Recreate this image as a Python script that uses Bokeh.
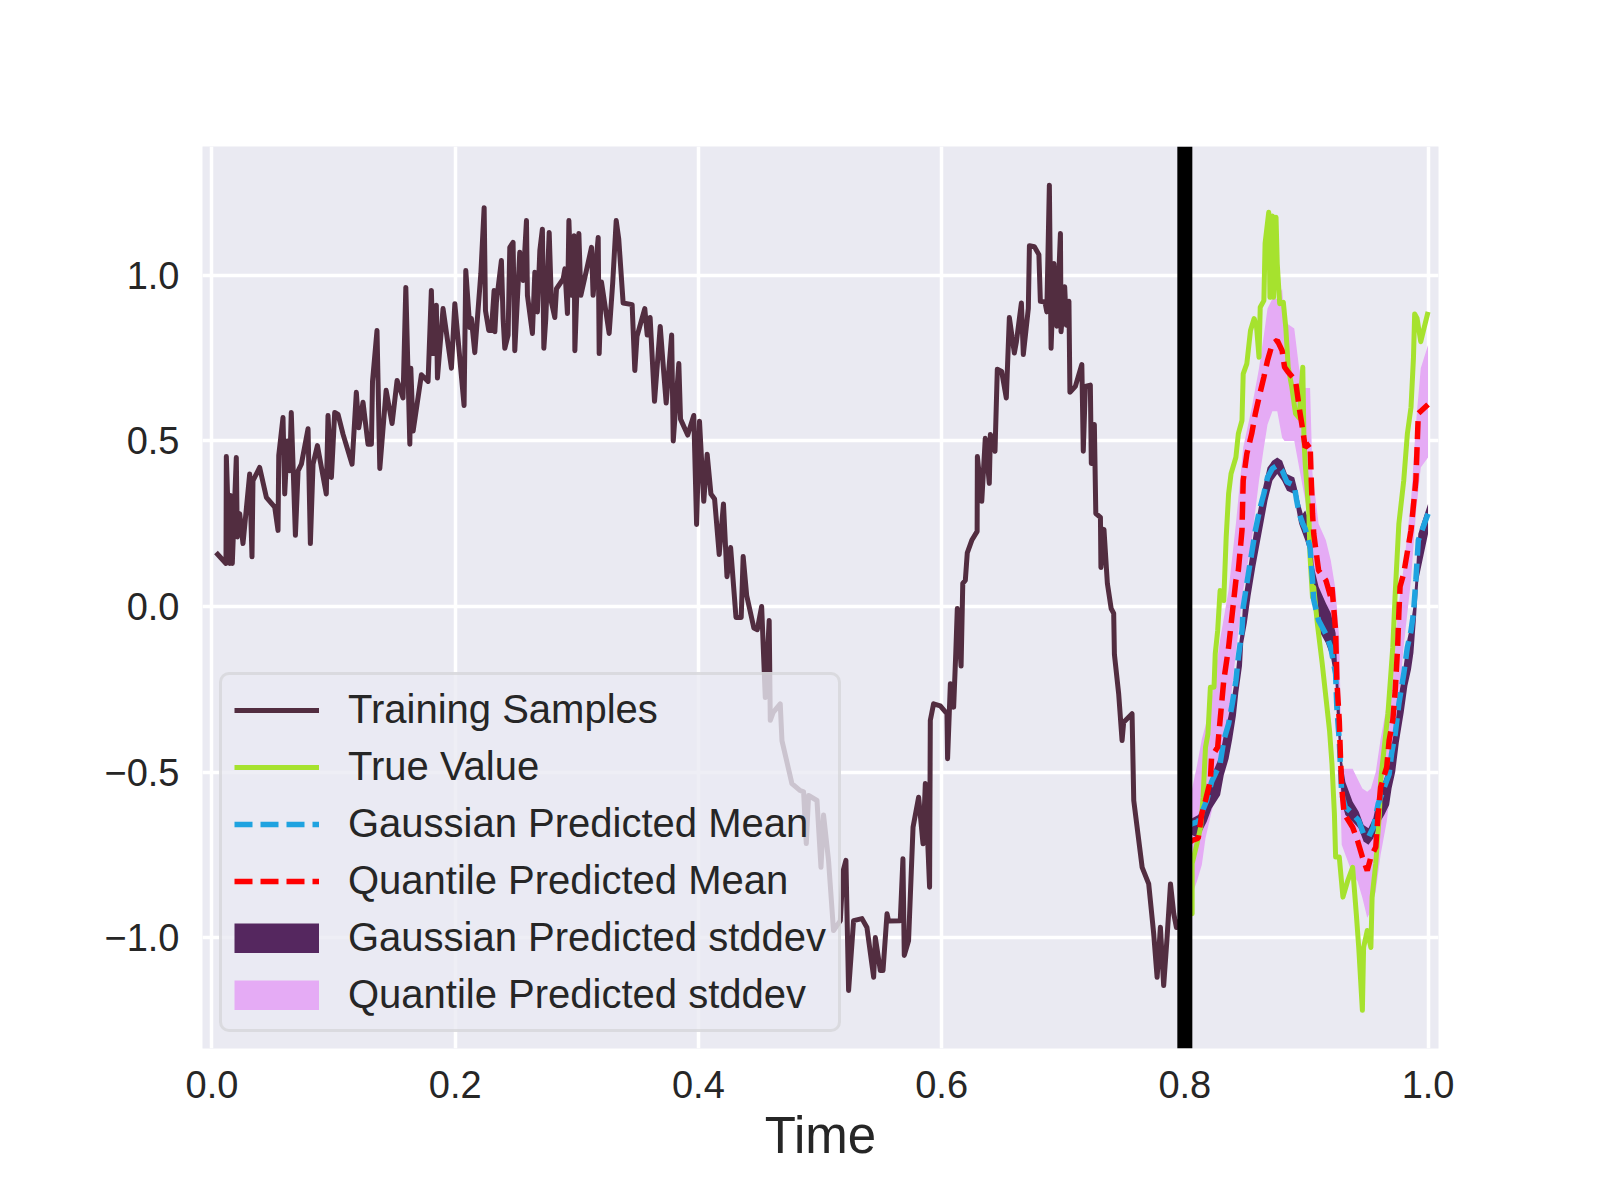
import numpy as np
from bokeh.plotting import figure
from bokeh.models import Span, Legend, LegendItem, FixedTicker, Range1d
from bokeh.embed import file_html
from bokeh.resources import INLINE

# ---------------- data ----------------
train_x = [0.0033, 0.0115, 0.0118, 0.0146, 0.0151, 0.0167, 0.0200, 0.0208, 0.0228, 0.0255,
           0.0310, 0.0329, 0.0337, 0.0392, 0.0447, 0.0516, 0.0543, 0.0549, 0.0584, 0.0598,
           0.0620, 0.0639, 0.0652, 0.0686, 0.0708, 0.0735, 0.0790, 0.0809, 0.0831, 0.0867,
           0.0940, 0.0954, 0.0982, 0.1009, 0.1037, 0.1078, 0.1152, 0.1187, 0.1207, 0.1242,
           0.1283, 0.1311, 0.1320, 0.1357, 0.1380, 0.1432, 0.1481, 0.1522, 0.1571, 0.1594,
           0.1627, 0.1635, 0.1654, 0.1722, 0.1777, 0.1804, 0.1818, 0.1845, 0.1854, 0.1900,
           0.1969, 0.1997, 0.2073, 0.2087, 0.2120, 0.2133, 0.2161, 0.2211, 0.2238, 0.2249,
           0.2276, 0.2298, 0.2320, 0.2326, 0.2339, 0.2380, 0.2394, 0.2408, 0.2435, 0.2449,
           0.2476, 0.2490, 0.2531, 0.2559, 0.2586, 0.2594, 0.2635, 0.2655, 0.2676, 0.2696,
           0.2717, 0.2729, 0.2745, 0.2773, 0.2791, 0.2819, 0.2833, 0.2888, 0.2902, 0.2923,
           0.2935, 0.2956, 0.2978, 0.2984, 0.3017, 0.3033, 0.3079, 0.3121, 0.3134, 0.3176,
           0.3184, 0.3203, 0.3266, 0.3295, 0.3324, 0.3345, 0.3381, 0.3455, 0.3477, 0.3495,
           0.3559, 0.3579, 0.3603, 0.3639, 0.3686, 0.3715, 0.3735, 0.3780, 0.3793, 0.3839,
           0.3853, 0.3912, 0.3962, 0.3985, 0.4009, 0.4044, 0.4072, 0.4103, 0.4133, 0.4171,
           0.4206, 0.4235, 0.4265, 0.4309, 0.4352, 0.4368, 0.4397, 0.4456, 0.4484, 0.4520,
           0.4550, 0.4582, 0.4591, 0.4615, 0.4673, 0.4687, 0.4769, 0.4837, 0.4865, 0.4887,
           0.4906, 0.4975, 0.5008, 0.5029, 0.5070, 0.5111, 0.5167, 0.5189, 0.5213, 0.5235,
           0.5276, 0.5345, 0.5386, 0.5441, 0.5455, 0.5496, 0.5518, 0.5551, 0.5564, 0.5660,
           0.5682, 0.5693, 0.5728, 0.5765, 0.5811, 0.5847, 0.5866, 0.5901, 0.5907, 0.5934,
           0.5989, 0.6044, 0.6049, 0.6072, 0.6099, 0.6116, 0.6129, 0.6160, 0.6174, 0.6195,
           0.6211, 0.6248, 0.6292, 0.6294, 0.6330, 0.6359, 0.6392, 0.6401, 0.6439, 0.6458,
           0.6494, 0.6532, 0.6557, 0.6598, 0.6615, 0.6656, 0.6672, 0.6713, 0.6722, 0.6763,
           0.6800, 0.6812, 0.6850, 0.6865, 0.6886, 0.6900, 0.6924, 0.6947, 0.6977, 0.6982,
           0.7012, 0.7026, 0.7047, 0.7055, 0.7100, 0.7153, 0.7165, 0.7182, 0.7223, 0.7231,
           0.7256, 0.7268, 0.7306, 0.7310, 0.7335, 0.7363, 0.7394, 0.7415, 0.7421, 0.7456,
           0.7484, 0.7497, 0.7566, 0.7580, 0.7649, 0.7703, 0.7744, 0.7772, 0.7799, 0.7826,
           0.7854, 0.7882, 0.7909, 0.7931, 0.7997]
train_y = [0.163, 0.13, 0.453, 0.13, 0.335, 0.13, 0.45, 0.21, 0.28, 0.19,
           0.40, 0.15, 0.38, 0.42, 0.33, 0.30, 0.23, 0.456, 0.571, 0.34,
           0.50, 0.41, 0.586, 0.215, 0.41, 0.43, 0.537, 0.19, 0.43, 0.486,
           0.34, 0.577, 0.39, 0.586, 0.58, 0.52, 0.43, 0.647, 0.54, 0.617,
           0.49, 0.49, 0.68, 0.834, 0.417, 0.653, 0.553, 0.683, 0.63, 0.964,
           0.49, 0.72, 0.53, 0.70, 0.68, 0.955, 0.764, 0.91, 0.69, 0.90,
           0.72, 0.915, 0.607, 1.015, 0.843, 0.87, 0.767, 1.006, 1.205, 0.894,
           0.834, 0.834, 0.955, 0.83, 0.92, 1.045, 0.87, 0.78, 0.82, 1.085,
           1.10, 0.773, 1.07, 0.985, 1.166, 0.94, 0.825, 1.01, 0.89, 1.075,
           1.14, 0.78, 0.87, 1.13, 0.92, 0.873, 0.96, 0.99, 1.02, 0.885,
           1.166, 0.94, 1.12, 0.773, 1.127, 0.94, 1.015, 1.085, 0.94, 1.115,
           0.764, 0.98, 0.825, 0.976, 1.166, 1.11, 0.917, 0.912, 0.713, 0.816,
           0.90, 0.82, 0.873, 0.62, 0.846, 0.707, 0.615, 0.82, 0.50, 0.734,
           0.566, 0.518, 0.577, 0.248, 0.56, 0.318, 0.46, 0.34, 0.325, 0.157,
           0.31, 0.09, 0.178, -0.033, -0.033, 0.151, 0.033, -0.065, -0.07, 0.0,
           -0.275, -0.042, -0.344, -0.32, -0.294, -0.405, -0.535, -0.556, -0.56, -0.716,
           -0.571, -0.586, -0.788, -0.63, -0.767, -0.979, -0.949, -0.80, -0.767, -1.16,
           -0.949, -0.943, -0.97, -1.12, -1.0, -1.1, -1.1, -0.928, -0.95, -0.949,
           -0.762, -1.054, -1.01, -0.667, -0.576, -0.717, -0.535, -0.848, -0.344, -0.294,
           -0.30, -0.324, -0.46, -0.233, -0.304, -0.145, -0.006, -0.18, 0.07, 0.079,
           0.162, 0.2, 0.227, 0.453, 0.318, 0.508, 0.372, 0.52, 0.469, 0.717,
           0.71, 0.63, 0.873, 0.766, 0.80, 0.917, 0.761, 0.90, 1.09, 1.087,
           1.063, 0.922, 0.92, 0.89, 1.273, 0.78, 1.036, 0.847, 1.127, 0.83,
           0.966, 0.85, 0.922, 0.647, 0.665, 0.731, 0.469, 0.665, 0.669, 0.432,
           0.55, 0.281, 0.269, 0.118, 0.233, 0.07, -0.006, -0.021, -0.145, -0.264,
           -0.405, -0.35, -0.324, -0.586, -0.788, -0.838, -0.989, -1.12, -0.969, -1.145,
           -1.0, -0.838, -0.928, -0.97, -0.92]

true_x = [0.800, 0.806, 0.806, 0.810, 0.813, 0.815, 0.817, 0.819, 0.821, 0.824,
          0.825, 0.827, 0.829, 0.832, 0.834, 0.836, 0.838, 0.842, 0.844, 0.847,
          0.848, 0.851, 0.854, 0.857, 0.859, 0.861, 0.862, 0.865, 0.866, 0.869,
          0.870, 0.872, 0.873, 0.875, 0.876, 0.878, 0.881, 0.883, 0.885, 0.888,
          0.891, 0.894, 0.897, 0.898, 0.899, 0.902, 0.903, 0.905, 0.906, 0.909,
          0.913, 0.916, 0.919, 0.921, 0.923, 0.924, 0.927, 0.930, 0.934, 0.938,
          0.941, 0.943, 0.946, 0.947, 0.950, 0.953, 0.954, 0.957, 0.960, 0.961,
          0.964, 0.967, 0.969, 0.971, 0.973, 0.976, 0.980, 0.983, 0.986, 0.988,
          0.989, 0.991, 0.994, 1.000]
true_y = [-0.93, -0.928, -0.777, -0.716, -0.667, -0.576, -0.425, -0.385, -0.244, -0.244,
          -0.143, -0.073, 0.048, 0.018, 0.209, 0.341, 0.401, 0.451, 0.522, 0.562,
          0.703, 0.734, 0.834, 0.87, 0.844, 0.753, 0.904, 0.924, 1.097, 1.191,
          0.934, 1.18, 0.934, 1.176, 1.036, 0.915, 0.919, 0.844, 0.723, 0.663,
          0.583, 0.57, 0.723, 0.501, 0.431, 0.281, 0.149, 0.028, 0.058, -0.053,
          -0.173, -0.274, -0.375, -0.475, -0.626, -0.757, -0.757, -0.878, -0.828, -0.788,
          -0.928, -1.03, -1.22, -1.03, -0.979, -1.03, -0.878, -0.777, -0.626, -0.526,
          -0.425, -0.324, -0.224, -0.123, 0.04, 0.25, 0.38, 0.522, 0.602, 0.75,
          0.884, 0.87, 0.80, 0.89]

gauss_x = [0.800, 0.806, 0.811, 0.818, 0.822, 0.829, 0.832, 0.836, 0.839, 0.842,
           0.844, 0.847, 0.848, 0.851, 0.854, 0.858, 0.862, 0.865, 0.868, 0.872,
           0.876, 0.880, 0.884, 0.890, 0.892, 0.894, 0.897, 0.899, 0.903, 0.905,
           0.906, 0.910, 0.916, 0.920, 0.924, 0.925, 0.927, 0.928, 0.929, 0.932,
           0.938, 0.943, 0.947, 0.951, 0.955, 0.959, 0.964, 0.968, 0.970, 0.973,
           0.976, 0.980, 0.983, 0.986, 0.988, 0.990, 0.992, 1.000]
gauss_mean = [-0.67, -0.656, -0.65, -0.586, -0.53, -0.475, -0.405, -0.354, -0.294, -0.224,
              -0.153, -0.073, -0.002, 0.07, 0.139, 0.23, 0.30, 0.341, 0.39, 0.417,
              0.426, 0.411, 0.376, 0.366, 0.32, 0.281, 0.25, 0.235, 0.179, 0.079,
              0.02, -0.042, -0.083, -0.123, -0.204, -0.304, -0.405, -0.486, -0.566, -0.606,
              -0.626, -0.647, -0.687, -0.697, -0.667, -0.596, -0.546, -0.506, -0.445, -0.385,
              -0.294, -0.204, -0.123, -0.073, -0.021, 0.08, 0.20, 0.28]
gauss_lower = [-0.69, -0.69, -0.70, -0.65, -0.61, -0.57, -0.51, -0.46, -0.40, -0.33,
               -0.26, -0.18, -0.11, -0.05, 0.03, 0.12, 0.20, 0.26, 0.32, 0.38,
               0.40, 0.38, 0.35, 0.34, 0.29, 0.25, 0.22, 0.20, 0.15, 0.05,
               -0.01, -0.07, -0.11, -0.15, -0.23, -0.33, -0.43, -0.51, -0.59, -0.63,
               -0.65, -0.67, -0.71, -0.72, -0.70, -0.66, -0.63, -0.60, -0.55, -0.50,
               -0.41, -0.32, -0.24, -0.19, -0.14, -0.04, 0.08, 0.22]
gauss_upper = [-0.65, -0.64, -0.63, -0.57, -0.51, -0.45, -0.39, -0.33, -0.27, -0.20,
               -0.13, -0.05, 0.02, 0.09, 0.16, 0.25, 0.32, 0.37, 0.42, 0.44,
               0.45, 0.44, 0.40, 0.39, 0.36, 0.32, 0.28, 0.29, 0.25, 0.17,
               0.12, 0.06, 0.01, -0.02, -0.08, -0.17, -0.27, -0.37, -0.46, -0.53,
               -0.59, -0.62, -0.66, -0.67, -0.64, -0.57, -0.52, -0.48, -0.42, -0.36,
               -0.27, -0.18, -0.10, -0.05, 0.00, 0.10, 0.22, 0.31]

quant_x = [0.800, 0.806, 0.811, 0.814, 0.817, 0.821, 0.822, 0.827, 0.829, 0.832,
           0.836, 0.839, 0.842, 0.844, 0.847, 0.848, 0.851, 0.855, 0.858, 0.861,
           0.865, 0.868, 0.872, 0.876, 0.880, 0.882, 0.885, 0.891, 0.894, 0.897,
           0.899, 0.903, 0.904, 0.905, 0.906, 0.910, 0.916, 0.920, 0.921, 0.924,
           0.925, 0.927, 0.928, 0.929, 0.931, 0.938, 0.942, 0.946, 0.950, 0.953,
           0.957, 0.959, 0.961, 0.966, 0.968, 0.971, 0.973, 0.975, 0.976, 0.977,
           0.980, 0.986, 0.990, 0.992, 0.994, 1.000]
quant_mean = [-0.72, -0.707, -0.70, -0.626, -0.586, -0.526, -0.455, -0.425, -0.344, -0.224,
              -0.123, -0.021, 0.079, 0.109, 0.23, 0.381, 0.462, 0.522, 0.583, 0.632,
              0.693, 0.743, 0.794, 0.804, 0.773, 0.723, 0.708, 0.683, 0.602, 0.532,
              0.481, 0.492, 0.38, 0.281, 0.22, 0.109, 0.079, 0.028, 0.058, -0.073,
              -0.224, -0.344, -0.455, -0.546, -0.626, -0.667, -0.707, -0.757, -0.798, -0.757,
              -0.727, -0.626, -0.546, -0.486, -0.405, -0.344, -0.254, -0.123, -0.021, 0.06,
              0.10, 0.23, 0.381, 0.583, 0.59, 0.61]

qband_x = [0.800, 0.806, 0.810, 0.814, 0.817, 0.822, 0.829, 0.836, 0.842, 0.848,
           0.855, 0.861, 0.865, 0.868, 0.872, 0.876, 0.880, 0.882, 0.890, 0.894,
           0.899, 0.903, 0.905, 0.910, 0.916, 0.920, 0.924, 0.927, 0.929, 0.938,
           0.942, 0.946, 0.950, 0.953, 0.957, 0.961, 0.966, 0.971, 0.975, 0.980,
           0.986, 0.990, 0.994, 1.000]
qband_lower = [-0.88, -0.87, -0.83, -0.78, -0.70, -0.62, -0.52, -0.34, -0.14, 0.05,
               0.20, 0.38, 0.48, 0.55, 0.59, 0.59, 0.51, 0.50, 0.50, 0.42,
               0.32, 0.26, 0.12, -0.02, -0.03, -0.08, -0.25, -0.45, -0.72, -0.81,
               -0.83, -0.88, -0.94, -0.92, -0.86, -0.75, -0.65, -0.50, -0.32, -0.12,
               0.08, 0.28, 0.42, 0.45]
qband_upper = [-0.55, -0.55, -0.48, -0.40, -0.36, -0.28, -0.10, 0.05, 0.25, 0.48,
               0.60, 0.72, 0.82, 0.90, 0.93, 0.93, 0.96, 0.86, 0.84, 0.72,
               0.66, 0.66, 0.40, 0.25, 0.20, 0.14, 0.05, -0.10, -0.49, -0.49,
               -0.52, -0.55, -0.56, -0.55, -0.50, -0.40, -0.30, -0.20, -0.02, 0.12,
               0.32, 0.55, 0.72, 0.79]

split_x = 0.8
x_ticks = [0.0, 0.2, 0.4, 0.6, 0.8, 1.0]
x_tick_labels = ["0.0", "0.2", "0.4", "0.6", "0.8", "1.0"]
y_ticks = [-1.0, -0.5, 0.0, 0.5, 1.0]
y_tick_labels = ["\u22121.0", "\u22120.5", "0.0", "0.5", "1.0"]
labels = ["Training Samples", "True Value", "Gaussian Predicted Mean",
          "Quantile Predicted Mean", "Gaussian Predicted stddev", "Quantile Predicted stddev"]

# ---------------- styling ----------------
FONT = "Liberation Sans"
TXT = "#262626"
C_TRAIN = "#522d40"
C_TRUE = "#a6e22e"
C_GMEAN = "#1fa3e0"
C_QMEAN = "#ff0000"
C_GSTD = "#55275f"
C_QSTD = "#e5abf5"

p = figure(frame_width=1236, frame_height=902,
           min_border_left=202, min_border_right=146,
           min_border_top=146, min_border_bottom=136,
           x_range=Range1d(-0.0078, 1.0086), y_range=Range1d(-1.3353, 1.3897),
           output_backend="svg", toolbar_location=None)

p.background_fill_color = "#EAEAF2"
p.border_fill_color = "white"
p.outline_line_color = None

r_qstd = p.varea(x=qband_x, y1=qband_lower, y2=qband_upper, fill_color=C_QSTD, fill_alpha=1.0)
r_gstd = p.varea(x=gauss_x, y1=gauss_lower, y2=gauss_upper, fill_color=C_GSTD, fill_alpha=1.0)
r_train = p.line(train_x, train_y, line_color=C_TRAIN, line_width=5, line_join="round")
r_true = p.line(true_x, true_y, line_color=C_TRUE, line_width=5, line_join="round")
r_gmean = p.line(gauss_x, gauss_mean, line_color=C_GMEAN, line_width=5.5, line_dash="18 8")
r_qmean = p.line(quant_x, quant_mean, line_color=C_QMEAN, line_width=5.5, line_dash="18 8")

# invisible (NaN) renderers used only to draw full-size legend patches for the two bands
nan_pt = np.array([np.nan])
k_gstd = p.line(x=nan_pt, y=nan_pt, line_color=C_GSTD, line_width=30, line_cap="butt")
k_qstd = p.line(x=nan_pt, y=nan_pt, line_color=C_QSTD, line_width=30, line_cap="butt")

p.add_layout(Span(location=split_x, dimension="height", line_color="black", line_width=15))

for ax in (p.xaxis[0], p.yaxis[0]):
    ax.axis_line_color = None
    ax.major_tick_line_color = None
    ax.minor_tick_line_color = None
    ax.major_tick_out = 0
    ax.major_tick_in = 0
    ax.major_label_text_font = FONT
    ax.major_label_text_font_size = "38px"
    ax.major_label_text_color = TXT

p.xaxis.ticker = FixedTicker(ticks=x_ticks)
p.yaxis.ticker = FixedTicker(ticks=y_ticks)
p.xaxis.major_label_overrides = {t: s for t, s in zip(x_ticks, x_tick_labels)}
p.yaxis.major_label_overrides = {t: s for t, s in zip(y_ticks, y_tick_labels)}
p.xaxis.major_label_standoff = 22
p.yaxis.major_label_standoff = 23

p.xaxis.axis_label = "Time"
p.xaxis.axis_label_text_font = FONT
p.xaxis.axis_label_text_font_size = "51px"
p.xaxis.axis_label_text_font_style = "normal"
p.xaxis.axis_label_text_color = TXT
p.xaxis.axis_label_standoff = 6

p.grid.grid_line_color = "white"
p.grid.grid_line_width = 3.5

legend = Legend(items=[
    LegendItem(label=labels[0], renderers=[r_train]),
    LegendItem(label=labels[1], renderers=[r_true]),
    LegendItem(label=labels[2], renderers=[r_gmean]),
    LegendItem(label=labels[3], renderers=[r_qmean]),
    LegendItem(label=labels[4], renderers=[r_gstd, k_gstd]),
    LegendItem(label=labels[5], renderers=[r_qstd, k_qstd]),
], location=(17, 16))
legend.label_text_font = FONT
legend.label_text_font_size = "40px"
legend.label_text_color = TXT
legend.glyph_width = 85
legend.glyph_height = 30
legend.label_height = 30
legend.label_standoff = 29
legend.spacing = 12
legend.padding = 12
legend.margin = 0
legend.border_line_color = "#cccccc"
legend.border_line_width = 3
legend.background_fill_color = "#EAEAF2"
legend.background_fill_alpha = 0.8
try:
    legend.border_radius = 10
except Exception:
    pass
p.add_layout(legend)

open("out.html", "w").write(file_html(p, INLINE))
